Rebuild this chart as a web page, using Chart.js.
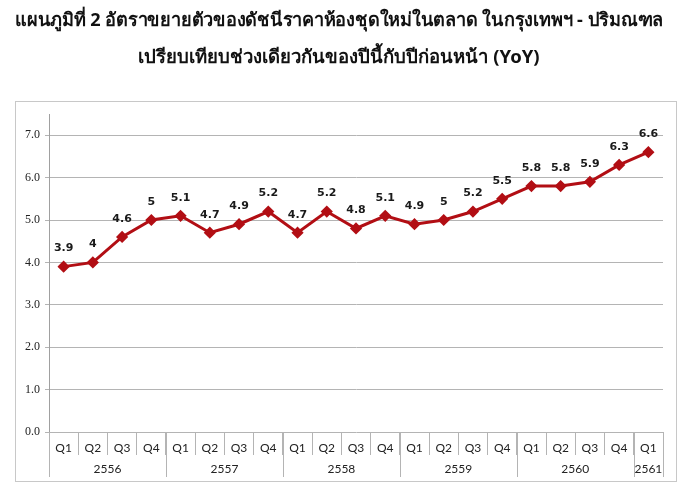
<!DOCTYPE html>
<html>
<head>
<meta charset="utf-8">
<script src="https://cdn.jsdelivr.net/npm/chart.js@4/dist/chart.umd.min.js"></script>
<style>
  html, body { margin: 0; padding: 0; background: #fff; }
  #wrap { width: 697px; height: 497px; }
</style>
</head>
<body>
<div id="wrap"><canvas id="yoyChart" width="697" height="497"></canvas></div>
<script>
const titleLines = [
  'แผนภูมิที่ 2 อัตราขยายตัวของดัชนีราคาห้องชุดใหม่ในตลาด ในกรุงเทพฯ - ปริมณฑล',
  'เปรียบเทียบช่วงเดียวกันของปีนี้กับปีก่อนหน้า (YoY)',
];
const years = ['2556', '2557', '2558', '2559', '2560', '2561'];
const quartersPerYear = [4, 4, 4, 4, 4, 1];
const quarterNames = ['Q1', 'Q2', 'Q3', 'Q4'];
const yoyValues = [3.9, 4, 4.6, 5, 5.1, 4.7, 4.9, 5.2, 4.7, 5.2, 4.8, 5.1, 4.9, 5, 5.2, 5.5, 5.8, 5.8, 5.9, 6.3, 6.6];
const yTicks = [0, 1, 2, 3, 4, 5, 6, 7];

const categories = [];
years.forEach((y, i) => {
  for (let q = 0; q < quartersPerYear[i]; q++) categories.push(quarterNames[q]);
});

const LINE_COLOR = '#b20e14';
const GRID_COLOR = '#b4b4b4';

// frame around the chart, like the Excel chart area border
const framePlugin = {
  id: 'frame',
  beforeDraw(chart) {
    const ctx = chart.ctx;
    ctx.save();
    ctx.strokeStyle = '#c8c8c8';
    ctx.lineWidth = 1;
    ctx.strokeRect(15.5, 101.5, 661, 380);
    ctx.restore();
  },
};

// year row under the quarter labels + longer separators between years
const yearRowPlugin = {
  id: 'yearRow',
  afterDraw(chart) {
    const ctx = chart.ctx;
    const x = chart.scales.x;
    const bottom = chart.chartArea.bottom;
    const half = (x.getPixelForValue(1) - x.getPixelForValue(0)) / 2;
    ctx.save();
    ctx.strokeStyle = GRID_COLOR;
    ctx.lineWidth = 1;
    ctx.fillStyle = '#222';
    ctx.font = '12px Lato, "Open Sans", sans-serif';
    ctx.textAlign = 'center';
    ctx.textBaseline = 'middle';
    let start = 0;
    years.forEach((y, i) => {
      const end = start + quartersPerYear[i] - 1;
      const left = x.getPixelForValue(start) - half;
      const right = x.getPixelForValue(end) + half;
      [left, right].forEach((px) => {
        const p = Math.round(px) + 0.5;
        ctx.beginPath();
        ctx.moveTo(p, bottom);
        ctx.lineTo(p, bottom + 45);
        ctx.stroke();
      });
      ctx.fillText(y, (left + right) / 2, bottom + 37);
      start = end + 1;
    });
    ctx.restore();
  },
};

// value labels above each point
const valueLabelPlugin = {
  id: 'valueLabels',
  afterDatasetsDraw(chart) {
    const ctx = chart.ctx;
    const meta = chart.getDatasetMeta(0);
    ctx.save();
    ctx.fillStyle = '#1a1a1a';
    ctx.font = 'bold 11px "DejaVu Sans", sans-serif';
    ctx.textAlign = 'center';
    ctx.textBaseline = 'middle';
    meta.data.forEach((pt, i) => {
      ctx.fillText(String(yoyValues[i]), pt.x, pt.y - 18);
    });
    ctx.restore();
  },
};

new Chart(document.getElementById('yoyChart').getContext('2d'), {
  type: 'line',
  data: {
    labels: categories,
    datasets: [
      {
        label: 'YoY',
        data: yoyValues,
        borderColor: LINE_COLOR,
        backgroundColor: LINE_COLOR,
        borderWidth: 3,
        pointStyle: 'rectRot',
        pointRadius: 4,
        pointHoverRadius: 4,
        tension: 0,
      },
    ],
  },
  options: {
    responsive: false,
    animation: false,
    layout: { padding: { left: 15, right: 34, top: 0, bottom: 15 } },
    plugins: {
      legend: { display: false },
      tooltip: { enabled: false },
      title: {
        display: true,
        text: titleLines,
        color: '#111',
        font: { family: '"Noto Sans", sans-serif', size: 18.5, weight: 'bold', lineHeight: 2.0 },
        padding: { top: 2, bottom: 38 },
      },
    },
    scales: {
      x: {
        offset: true,
        afterFit: (scale) => { scale.height = 50; },
        grid: {
          display: true,
          offset: true,
          drawOnChartArea: false,
          drawTicks: true,
          tickLength: 23,
          color: GRID_COLOR,
        },
        border: { display: false },
        ticks: {
          color: '#222',
          font: { family: 'Lato, "Open Sans", sans-serif', size: 12 },
          padding: -14,
          autoSkip: false,
          maxRotation: 0,
        },
      },
      y: {
        min: 0,
        max: 7.5,
        afterFit: (scale) => { scale.width = 34; },
        afterBuildTicks: (scale) => {
          scale.ticks = yTicks.map((v) => ({ value: v }));
        },
        grid: { color: GRID_COLOR, drawTicks: true, tickLength: 4 },
        border: { display: true, color: '#a0a0a0' },
        ticks: {
          color: '#222',
          padding: 5,
          font: { family: '"Liberation Serif", serif', size: 12 },
          callback: (v) => Number(v).toFixed(1),
        },
      },
    },
  },
  plugins: [framePlugin, yearRowPlugin, valueLabelPlugin],
});
</script>
</body>
</html>
